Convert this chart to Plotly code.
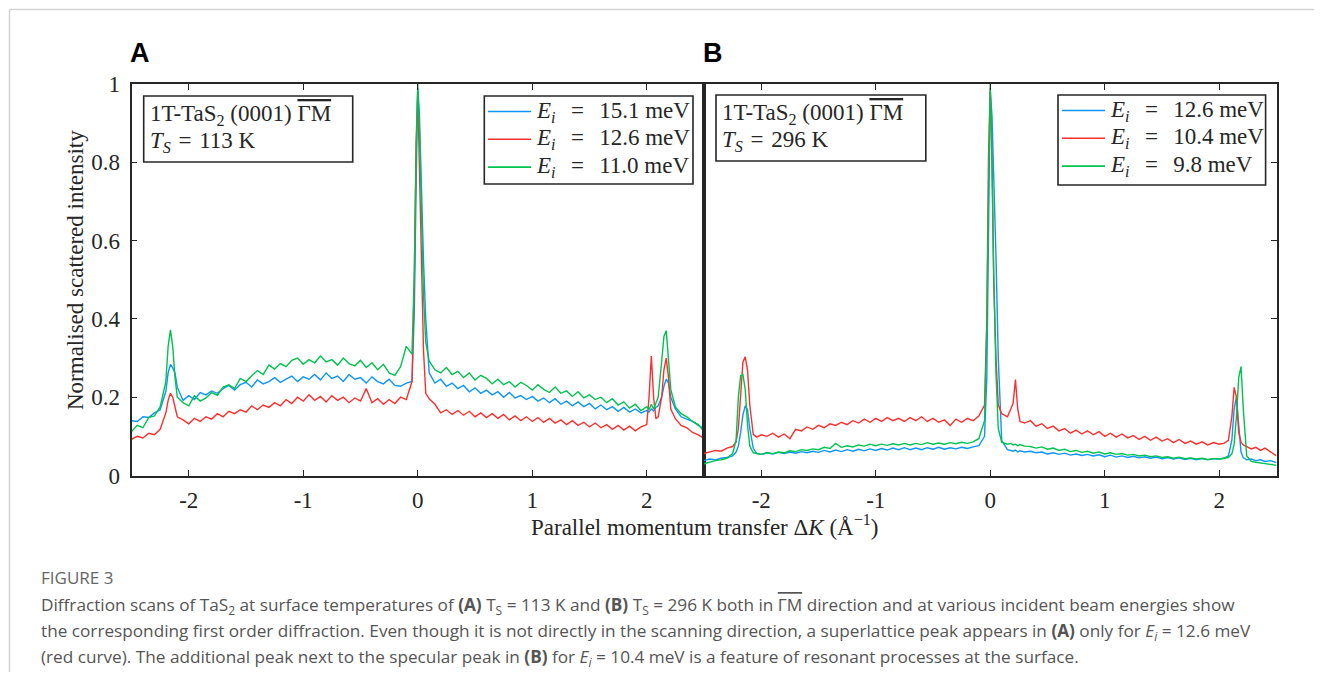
import plotly.graph_objects as go

# figure sized so the page (with the browser's 8 px body margin) fits the 1322x680 window
W, H = 1306, 664
OX, OY = 8, 8

# ---------------- data: panel A (T_S = 113 K) ----------------
xa = [-2.50, -2.45, -2.40, -2.35, -2.30, -2.25, -2.20,
      -2.18, -2.16, -2.14, -2.12, -2.10,
      -2.05, -2.00, -1.95, -1.90, -1.85, -1.80, -1.75, -1.70, -1.65, -1.60,
      -1.55, -1.50, -1.45, -1.40, -1.35, -1.30, -1.25, -1.20, -1.15, -1.10,
      -1.05, -1.00, -0.95, -0.90, -0.85, -0.80, -0.75, -0.70, -0.65, -0.60,
      -0.55, -0.50, -0.45, -0.40, -0.35, -0.30, -0.25, -0.20, -0.15, -0.10,
      -0.05, -0.03, -0.015, 0.0, 0.015, 0.03, 0.05, 0.07,
      0.10, 0.15, 0.20, 0.25, 0.30, 0.35, 0.40, 0.45, 0.50, 0.55,
      0.60, 0.65, 0.70, 0.75, 0.80, 0.85, 0.90, 0.95, 1.00, 1.05,
      1.10, 1.15, 1.20, 1.25, 1.30, 1.35, 1.40, 1.45, 1.50, 1.55,
      1.60, 1.65, 1.70, 1.75, 1.80, 1.85, 1.90, 1.95, 2.00,
      2.02, 2.04, 2.06, 2.08, 2.10, 2.13, 2.15, 2.17, 2.19, 2.21,
      2.25, 2.30, 2.35, 2.40, 2.45, 2.50]

a_blue = [0.140, 0.138, 0.150, 0.148, 0.160, 0.168, 0.215,
          0.262, 0.284, 0.275, 0.262, 0.225,
          0.192, 0.204, 0.194, 0.212, 0.206, 0.216, 0.210, 0.222, 0.230, 0.218,
          0.232, 0.238, 0.226, 0.244, 0.234, 0.240, 0.250, 0.238, 0.246, 0.254,
          0.240, 0.252, 0.246, 0.258, 0.244, 0.262, 0.248, 0.254, 0.240, 0.258,
          0.246, 0.250, 0.236, 0.252, 0.240, 0.234, 0.246, 0.230, 0.228, 0.236,
          0.24, 0.42, 0.72, 0.99, 0.92, 0.75, 0.55, 0.40,
          0.262, 0.236, 0.246, 0.228, 0.236, 0.222, 0.230, 0.214, 0.224, 0.210,
          0.218, 0.206, 0.214, 0.200, 0.212, 0.198, 0.204, 0.194, 0.202, 0.190,
          0.198, 0.186, 0.196, 0.182, 0.190, 0.178, 0.188, 0.176, 0.184, 0.170,
          0.180, 0.168, 0.176, 0.164, 0.174, 0.162, 0.170, 0.160, 0.166,
          0.162, 0.170, 0.165, 0.174, 0.178, 0.200, 0.228, 0.246, 0.236, 0.200,
          0.170, 0.150, 0.144, 0.138, 0.128, 0.120]

a_red = [0.092, 0.100, 0.096, 0.108, 0.104, 0.118, 0.160,
         0.192, 0.210, 0.200, 0.175, 0.150,
         0.142, 0.132, 0.146, 0.138, 0.150, 0.144, 0.158, 0.150, 0.164, 0.158,
         0.168, 0.162, 0.178, 0.168, 0.180, 0.174, 0.186, 0.178, 0.194, 0.184,
         0.200, 0.190, 0.206, 0.192, 0.202, 0.188, 0.204, 0.192, 0.200, 0.186,
         0.198, 0.190, 0.222, 0.186, 0.196, 0.182, 0.194, 0.184, 0.200, 0.194,
         0.24, 0.50, 0.85, 0.98, 0.78, 0.55, 0.32, 0.21,
         0.196, 0.182, 0.160, 0.168, 0.156, 0.166, 0.154, 0.164, 0.150, 0.160,
         0.148, 0.158, 0.146, 0.156, 0.142, 0.152, 0.140, 0.150, 0.138, 0.148,
         0.136, 0.146, 0.134, 0.142, 0.130, 0.140, 0.128, 0.136, 0.124, 0.134,
         0.122, 0.130, 0.118, 0.128, 0.116, 0.126, 0.114, 0.124, 0.130,
         0.200, 0.305, 0.200, 0.145, 0.150, 0.200, 0.270, 0.300, 0.250, 0.170,
         0.145, 0.128, 0.122, 0.110, 0.104, 0.095]

a_green = [0.112, 0.128, 0.122, 0.148, 0.152, 0.175, 0.240,
           0.330, 0.372, 0.330, 0.250, 0.200,
           0.186, 0.178, 0.204, 0.190, 0.198, 0.212, 0.205, 0.226, 0.232, 0.222,
           0.248, 0.240, 0.255, 0.268, 0.258, 0.282, 0.272, 0.286, 0.278, 0.294,
           0.300, 0.284, 0.296, 0.288, 0.305, 0.290, 0.296, 0.282, 0.300, 0.286,
           0.280, 0.294, 0.276, 0.288, 0.270, 0.284, 0.262, 0.256, 0.278, 0.330,
           0.31, 0.52, 0.80, 1.00, 0.88, 0.66, 0.46, 0.34,
           0.292, 0.270, 0.262, 0.276, 0.258, 0.266, 0.250, 0.262, 0.244, 0.256,
           0.248, 0.234, 0.246, 0.232, 0.240, 0.226, 0.238, 0.230, 0.218, 0.232,
           0.220, 0.212, 0.226, 0.210, 0.216, 0.202, 0.214, 0.198, 0.206, 0.194,
           0.200, 0.186, 0.196, 0.180, 0.188, 0.172, 0.182, 0.166, 0.176,
           0.168, 0.182, 0.170, 0.185, 0.200, 0.290, 0.355, 0.370, 0.300, 0.220,
           0.175, 0.158, 0.150, 0.138, 0.130, 0.112]

# ---------------- data: panel B (T_S = 296 K) ----------------
xb = [-2.50, -2.45, -2.40, -2.35, -2.30, -2.25, -2.22,
      -2.20, -2.18, -2.16, -2.14, -2.12, -2.10, -2.07,
      -2.04, -2.00, -1.95, -1.90, -1.85, -1.80, -1.75, -1.70, -1.65, -1.60,
      -1.55, -1.50, -1.45, -1.40, -1.35, -1.30, -1.25, -1.20, -1.15, -1.10,
      -1.05, -1.00, -0.95, -0.90, -0.85, -0.80, -0.75, -0.70, -0.65, -0.60,
      -0.55, -0.50, -0.45, -0.40, -0.35, -0.30, -0.25, -0.20, -0.15, -0.10,
      -0.05, -0.03, -0.015, 0.0, 0.015, 0.03, 0.05, 0.07,
      0.10, 0.15, 0.18, 0.20, 0.22, 0.24, 0.26, 0.30,
      0.35, 0.40, 0.45, 0.50, 0.55, 0.60, 0.65, 0.70, 0.75, 0.80,
      0.85, 0.90, 0.95, 1.00, 1.05, 1.10, 1.15, 1.20, 1.25, 1.30,
      1.35, 1.40, 1.45, 1.50, 1.55, 1.60, 1.65, 1.70, 1.75, 1.80,
      1.85, 1.90, 1.95, 2.00,
      2.04, 2.08, 2.11, 2.13, 2.15, 2.17, 2.19, 2.21, 2.24,
      2.28, 2.32, 2.36, 2.40, 2.45, 2.50]

b_blue = [0.038, 0.042, 0.040, 0.044, 0.046, 0.050, 0.060,
          0.075, 0.110, 0.155, 0.178, 0.168, 0.120, 0.070,
          0.056, 0.054, 0.058, 0.055, 0.059, 0.056, 0.060, 0.057, 0.061, 0.058,
          0.062, 0.059, 0.064, 0.060, 0.065, 0.061, 0.066, 0.062, 0.067, 0.063,
          0.068, 0.064, 0.069, 0.065, 0.070, 0.066, 0.071, 0.066, 0.070, 0.066,
          0.071, 0.067, 0.072, 0.067, 0.071, 0.068, 0.072, 0.069, 0.073, 0.076,
          0.10, 0.25, 0.62, 0.98, 0.92, 0.78, 0.56, 0.30,
          0.090, 0.066, 0.064, 0.062, 0.065, 0.060, 0.063, 0.060,
          0.062, 0.058, 0.060, 0.055, 0.058, 0.054, 0.057, 0.052, 0.055, 0.051,
          0.054, 0.050, 0.053, 0.048, 0.052, 0.047, 0.050, 0.046, 0.049, 0.045,
          0.048, 0.044, 0.047, 0.043, 0.046, 0.042, 0.045, 0.041, 0.044, 0.040,
          0.043, 0.040, 0.043, 0.042,
          0.044, 0.050, 0.090, 0.170, 0.200, 0.120, 0.060, 0.045, 0.040,
          0.042, 0.038, 0.040, 0.036, 0.038, 0.033]

b_red = [0.056, 0.060, 0.064, 0.062, 0.070, 0.074, 0.085,
         0.120, 0.220, 0.290, 0.303, 0.270, 0.180, 0.105,
         0.098, 0.104, 0.100, 0.108, 0.098, 0.106, 0.094, 0.118, 0.114, 0.124,
         0.118, 0.128, 0.122, 0.132, 0.128, 0.136, 0.130, 0.140, 0.134, 0.144,
         0.136, 0.146, 0.138, 0.148, 0.140, 0.146, 0.138, 0.148, 0.140, 0.150,
         0.138, 0.146, 0.136, 0.142, 0.128, 0.144, 0.136, 0.146, 0.140, 0.152,
         0.18, 0.40, 0.82, 0.99, 0.80, 0.50, 0.30, 0.18,
         0.158, 0.150, 0.170, 0.185, 0.245, 0.170, 0.138, 0.134,
         0.140, 0.126, 0.132, 0.120, 0.126, 0.114, 0.120, 0.108, 0.116, 0.106,
         0.114, 0.104, 0.112, 0.100, 0.108, 0.098, 0.106, 0.096, 0.102, 0.092,
         0.100, 0.090, 0.098, 0.088, 0.094, 0.084, 0.092, 0.082, 0.088, 0.080,
         0.086, 0.078, 0.084, 0.080,
         0.082, 0.090, 0.150, 0.225, 0.200, 0.110, 0.085, 0.078, 0.074,
         0.068, 0.072, 0.064, 0.070, 0.060, 0.050]

b_green = [0.030, 0.034, 0.038, 0.040, 0.044, 0.056, 0.090,
           0.200, 0.255, 0.258, 0.220, 0.130, 0.075, 0.058,
           0.056, 0.054, 0.058, 0.056, 0.060, 0.058, 0.063, 0.061, 0.066, 0.064,
           0.068, 0.066, 0.072, 0.069, 0.082, 0.072, 0.076, 0.073, 0.078, 0.075,
           0.080, 0.076, 0.080, 0.077, 0.081, 0.078, 0.082, 0.078, 0.082, 0.079,
           0.084, 0.080, 0.083, 0.080, 0.084, 0.081, 0.085, 0.082, 0.086, 0.094,
           0.14, 0.38, 0.74, 1.00, 0.82, 0.52, 0.26, 0.12,
           0.085, 0.080, 0.082, 0.078, 0.080, 0.076, 0.079, 0.075,
           0.074, 0.070, 0.073, 0.067, 0.070, 0.064, 0.067, 0.061, 0.064, 0.059,
           0.062, 0.057, 0.060, 0.055, 0.058, 0.054, 0.056, 0.052, 0.054, 0.050,
           0.052, 0.048, 0.050, 0.046, 0.048, 0.044, 0.047, 0.043, 0.045, 0.042,
           0.044, 0.041, 0.043, 0.042,
           0.044, 0.046, 0.055, 0.080, 0.150, 0.250, 0.278, 0.170, 0.050,
           0.036, 0.034, 0.032, 0.030, 0.029, 0.026]

for s in (a_blue, a_red, a_green):
    assert len(s) == len(xa), (len(s), len(xa))
for s in (b_blue, b_red, b_green):
    assert len(s) == len(xb), (len(s), len(xb))

energies_a = ["15.1", "12.6", "11.0"]
energies_b = ["12.6", "10.4", "9.8"]
temps = ["113", "296"]
x_ticks = [-2, -1, 0, 1, 2]
x_tick_text = ["-2", "-1", "0", "1", "2"]
y_ticks = [0, 0.2, 0.4, 0.6, 0.8, 1]
y_tick_text = ["0", "0.2", "0.4", "0.6", "0.8", "1"]

colors = ["#0d95f7", "#ff2e2e", "#00c24f"]
SERIF = "Liberation Serif, DejaVu Serif, serif"
INK = "#262626"


def px(x):
    """screen x (window pixels) -> paper fraction"""
    return (x - OX) / W


def py(y):
    """screen y (window pixels) -> paper fraction"""
    return 1 - (y - OY) / H


fig = go.Figure()
for ys, c, e in zip((a_blue, a_red, a_green), colors, energies_a):
    fig.add_trace(go.Scatter(x=xa, y=ys, mode="lines", line=dict(color=c, width=1.4),
                             name=f"E_i = {e} meV", xaxis="x", yaxis="y", showlegend=False))
for ys, c, e in zip((b_blue, b_red, b_green), colors, energies_b):
    fig.add_trace(go.Scatter(x=xb, y=ys, mode="lines", line=dict(color=c, width=1.4),
                             name=f"E_i = {e} meV", xaxis="x2", yaxis="y2", showlegend=False))

ydom = [py(475.5), py(84)]
axis_common = dict(showgrid=False, zeroline=False, showline=True, linecolor=INK, linewidth=1.6,
                   ticks="inside", ticklen=6, tickwidth=1.4, tickcolor=INK, automargin=False,
                   tickfont=dict(family=SERIF, size=23, color=INK))
fig.update_layout(
    width=W, height=H, autosize=False,
    margin=dict(l=0, r=0, t=0, b=0, pad=0),
    paper_bgcolor="white", plot_bgcolor="white",
    showlegend=False,
    xaxis=dict(domain=[px(131.5), px(704)], range=[-2.5, 2.5], anchor="y",
               tickvals=x_ticks, ticktext=x_tick_text, mirror="ticks", ticklabelstandoff=3, **axis_common),
    xaxis2=dict(domain=[px(704), px(1276.5)], range=[-2.5, 2.5], anchor="y2",
                tickvals=x_ticks, ticktext=x_tick_text, mirror="ticks", ticklabelstandoff=3, **axis_common),
    yaxis=dict(domain=ydom, range=[0, 1], anchor="x", tickvals=y_ticks, ticktext=y_tick_text,
               mirror=True, ticklabelstandoff=5, **axis_common),
    yaxis2=dict(domain=ydom, range=[0, 1], anchor="x2", side="right", tickvals=y_ticks,
                showticklabels=False, mirror=True, **axis_common),
)

shapes = []
annotations = []


def note(x, y, text, size=23, family=SERIF, color=INK, xanchor="center", angle=0):
    annotations.append(dict(x=px(x), y=py(y), xref="paper", yref="paper", xanchor=xanchor,
                            yanchor="middle", showarrow=False, text=text, textangle=angle,
                            font=dict(family=family, size=size, color=color)))


# outer light frame (top and left edges of the page card)
shapes.append(dict(type="line", xref="paper", yref="paper", x0=px(9.5), x1=1, y0=py(9.5), y1=py(9.5),
                   line=dict(color="#d4d4d4", width=1.5), layer="below"))
shapes.append(dict(type="line", xref="paper", yref="paper", x0=px(9.5), x1=px(9.5), y0=py(9.5), y1=0,
                   line=dict(color="#d4d4d4", width=1.5), layer="below"))

OVL = "<span style='text-decoration:overline'>ΓM</span>"
SP = "\u2004"

# info boxes
for (x0, x1, y0, y1), t in zip([(143.7, 352.7, 96, 162), (716, 925.8, 95, 161)], temps):
    shapes.append(dict(type="rect", xref="paper", yref="paper", x0=px(x0), x1=px(x1), y0=py(y0), y1=py(y1),
                       line=dict(color=INK, width=1.6), fillcolor="white", layer="above"))
    note(x0 + 4, y0 + 19, f"1T-TaS<sub>2</sub> (0001) {OVL}", size=23, xanchor="left")
    note(x0 + 4, y0 + 46.5, f"<i>T<sub>S</sub></i>{SP}={SP}{t} K", size=23, xanchor="left")

# legend boxes
for (x0, x1, y0, y1, lx0, lx1), ens in zip([(484.3, 693, 96, 184, 488, 531),
                                            (1058, 1265.6, 95, 185, 1062, 1105)],
                                           [energies_a, energies_b]):
    shapes.append(dict(type="rect", xref="paper", yref="paper", x0=px(x0), x1=px(x1), y0=py(y0), y1=py(y1),
                       line=dict(color=INK, width=1.6), fillcolor="white", layer="above"))
    for k, (c, e) in enumerate(zip(colors, ens)):
        yy = y0 + 15.5 + 27.8 * k
        shapes.append(dict(type="line", xref="paper", yref="paper", x0=px(lx0), x1=px(lx1),
                           y0=py(yy), y1=py(yy), line=dict(color=c, width=1.6), layer="above"))
        note(lx1 + 3, yy, f"<i>E<sub>i</sub></i>{SP}{SP}={SP}{SP}{e} meV", xanchor="left")

# axis titles
note(75, 270, "Normalised scattered intensity", angle=-90)
note(704, 525, "Parallel momentum transfer Δ<i>K</i> (Å<sup>−1</sup>)")

# panel labels
for lab, xx in (("A", 140), ("B", 713)):
    note(xx, 53, f"<b>{lab}</b>", size=27, family="Liberation Sans, Arial, sans-serif", color="black")

# caption
CAP = "Open Sans, Noto Sans, sans-serif"
cap_lines = [
    ("FIGURE 3", 577),
    ("Diffraction scans of TaS<sub>2</sub> at surface temperatures of <b>(A)</b> T<sub>S</sub> = 113 K and "
     "<b>(B)</b> T<sub>S</sub> = 296 K both in " + OVL + " direction and at various incident beam energies show", 606),
    ("the corresponding first order diffraction. Even though it is not directly in the scanning direction, "
     "a superlattice peak appears in <b>(A)</b> only for <i>E<sub>i</sub></i> = 12.6 meV", 632),
    ("(red curve). The additional peak next to the specular peak in <b>(B)</b> for <i>E<sub>i</sub></i> = "
     "10.4 meV is a feature of resonant processes at the surface.", 658),
]
for i, (t, yy) in enumerate(cap_lines):
    note(39, yy, t, size=17.2 if i else 17, family=CAP,
         color="#666666" if i == 0 else "#555555", xanchor="left")

fig.update_layout(shapes=shapes, annotations=annotations)
fig.write_html("out.html")
